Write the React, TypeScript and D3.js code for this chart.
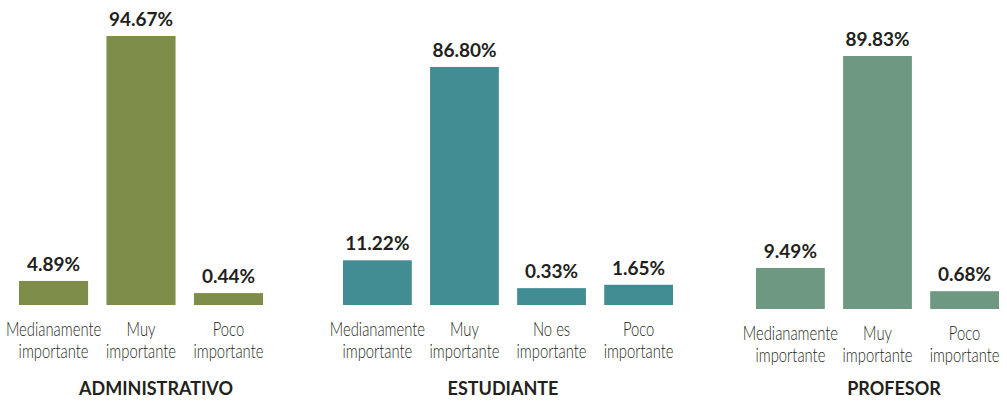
import * as d3 from 'd3';

// data
const groups = ['ADMINISTRATIVO', 'ESTUDIANTE', 'PROFESOR'];
const adminCats = ['Medianamente|importante', 'Muy|importante', 'Poco|importante'];
const adminValues = [4.89, 94.67, 0.44];
const studentCats = ['Medianamente|importante', 'Muy|importante', 'No es|importante', 'Poco|importante'];
const studentValues = [11.22, 86.8, 0.33, 1.65];
const teacherCats = ['Medianamente|importante', 'Muy|importante', 'Poco|importante'];
const teacherValues = [9.49, 89.83, 0.68];

// layout per panel (not data)
const panels = [
    { cats: adminCats, values: adminValues, color: '#7e8d4a', x0: 19, x1: 263, base: 305, top: 36, floor: 10.7, titleX: 156 },
    { cats: studentCats, values: studentValues, color: '#428c94', x0: 343, x1: 673, base: 305, top: 67, floor: 16, titleX: 503 },
    { cats: teacherCats, values: teacherValues, color: '#6f9882', x0: 756, x1: 999, base: 309, top: 56, floor: 16, titleX: 894 },
];

const width = 1007;
const height = 401;
const textColor = '#231f20';

export default function App() {
    return (
        <svg
            width={width}
            height={height}
            style={{ position: 'absolute', left: 0, top: 0, background: '#fff' }}
        >
            {panels.map((p, pi) => {
                const xScale = d3
                    .scaleBand()
                    .domain(p.cats)
                    .range([p.x0, p.x1])
                    .paddingInner(0.21)
                    .paddingOuter(0);
                const yScale = d3
                    .scaleLinear()
                    .domain([0, d3.max(p.values)])
                    .range([p.base - p.floor, p.top]);
                return (
                    <g key={pi}>
                        {p.cats.map((c, i) => {
                            const x = xScale(c);
                            const cx = x + xScale.bandwidth() / 2;
                            const y = yScale(p.values[i]);
                            const lines = c.split('|');
                            return (
                                <g key={c}>
                                    <rect
                                        x={x}
                                        y={y}
                                        width={xScale.bandwidth()}
                                        height={p.base - y}
                                        fill={p.color}
                                    />
                                    <text
                                        x={cx}
                                        y={y - 10}
                                        textAnchor="middle"
                                        fontFamily="Lato"
                                        fontWeight={700}
                                        fontSize={19}
                                        fill={textColor}
                                    >
                                        {p.values[i].toFixed(2) + '%'}
                                    </text>
                                    {lines.map((l, li) => (
                                        <text
                                            key={li}
                                            transform={`translate(${cx},${p.base + 31 + li * 22}) scale(0.78,1)`}
                                            textAnchor="middle"
                                            fontFamily="Lato"
                                            fontWeight={300}
                                            fontSize={19}
                                            fill={textColor}
                                        >
                                            {l}
                                        </text>
                                    ))}
                                </g>
                            );
                        })}
                        <text
                            x={p.titleX}
                            y={Math.min(p.base + 91, 395)}
                            textAnchor="middle"
                            fontFamily="Lato"
                            fontWeight={700}
                            fontSize={18}
                            fill={textColor}
                        >
                            {groups[pi]}
                        </text>
                    </g>
                );
            })}
        </svg>
    );
}
